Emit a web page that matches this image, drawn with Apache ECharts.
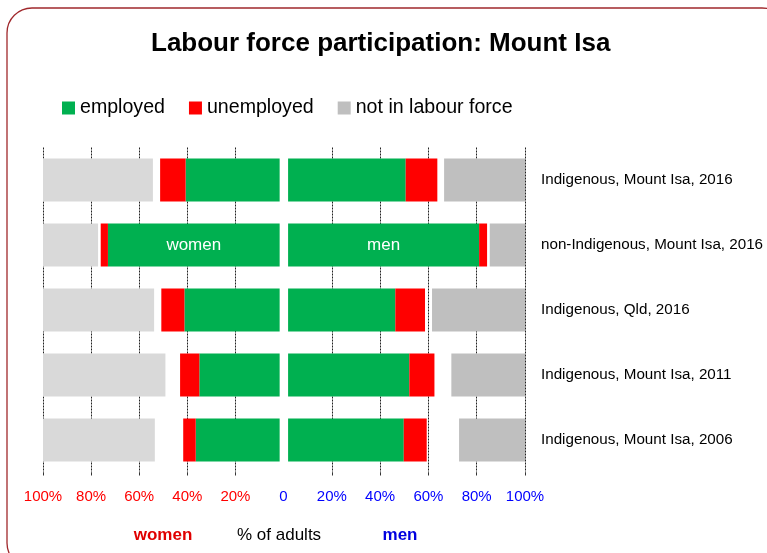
<!DOCTYPE html>
<html><head><meta charset="utf-8">
<script src="https://cdn.jsdelivr.net/npm/echarts@6/dist/echarts.min.js"></script>
<style>html,body{margin:0;padding:0;background:#fff}#c{width:767px;height:553px}</style>
</head><body><div id="c"></div>
<script>
// ---- data ----
const categories = [
  'Indigenous, Mount Isa, 2016',
  'non-Indigenous, Mount Isa, 2016',
  'Indigenous, Qld, 2016',
  'Indigenous, Mount Isa, 2011',
  'Indigenous, Mount Isa, 2006'
];
const womenEmployed   = [39.1, 71.4, 39.6, 33.4, 34.9];
const womenUnemployed = [10.6, 3.0, 9.6, 8.0, 5.2];
const womenNotInLF    = [45.7, 22.9, 46.2, 50.9, 46.5];
const menEmployed     = [48.7, 79.1, 44.4, 50.2, 47.9];
const menUnemployed   = [13.1, 3.3, 12.3, 10.4, 9.5];
const menNotInLF      = [33.5, 14.6, 38.5, 30.5, 27.3];
const tickValues = [0, 20, 40, 60, 80, 100];

// ---- style ----
const FONT = 'Liberation Sans, Arial, sans-serif';
const WOMEN_SPACER = 1.6, MEN_SPACER = 1.9;
const GREEN = '#00B050', RED = '#FF0000';

function sideSeries(idx, emp, unemp, nilf, spacer, greyColor, labelText) {
  const stack = 'side' + idx;
  const base = {type: 'bar', stack: stack, xAxisIndex: idx, yAxisIndex: idx, barWidth: 43};
  return [
    Object.assign({}, base, {name: '_sp' + idx, data: categories.map(() => spacer),
      itemStyle: {color: 'rgba(0,0,0,0)'}, silent: true, emphasis: {disabled: true}}),
    Object.assign({}, base, {name: 'employed',
      data: emp.map((v, i) => i === 1 ? {value: v, label: {show: true, position: 'inside',
        formatter: labelText, color: '#fff', fontSize: 17, fontFamily: FONT}} : v),
      itemStyle: {color: GREEN}}),
    Object.assign({}, base, {name: 'unemployed', data: unemp, itemStyle: {color: RED}}),
    Object.assign({}, base, {name: '_gap' + idx,
      data: emp.map((v, i) => +(100 - spacer - v - unemp[i] - nilf[i]).toFixed(2)),
      itemStyle: {color: 'rgba(0,0,0,0)'}, silent: true, emphasis: {disabled: true}}),
    Object.assign({}, base, {name: 'not in labour force', data: nilf, itemStyle: {color: greyColor}})
  ];
}

const splitLine = {show: true, showMinLine: true, showMaxLine: true, lineStyle: {color: '#222', width: 1, type: [2, 1]}};
const axisTick = {show: true, length: 3, customValues: tickValues.slice(1), lineStyle: {color: '#333'}};

const chart = echarts.init(document.getElementById('c'), null, {renderer: 'canvas'});
chart.setOption({
  animation: false,
  backgroundColor: '#fff',
  textStyle: {fontFamily: FONT},
  title: {
    text: 'Labour force participation: Mount Isa',
    left: 146, top: 26,
    textStyle: {fontSize: 26, fontWeight: 'bold', color: '#000', fontFamily: FONT}
  },
  legend: {
    left: 62, top: 98, padding: 0,
    itemWidth: 13, itemHeight: 13, itemGap: 24,
    icon: 'rect',
    textStyle: {fontSize: 19.6, color: '#000', fontFamily: FONT},
    data: [
      {name: 'employed', itemStyle: {color: GREEN}},
      {name: 'unemployed', itemStyle: {color: RED}},
      {name: 'not in labour force', itemStyle: {color: '#BFBFBF'}}
    ]
  },
  grid: [
    {left: 43, width: 240.5, top: 147.5, height: 325},
    {left: 283.5, width: 241.5, top: 147.5, height: 325}
  ],
  xAxis: [
    {gridIndex: 0, type: 'value', min: 0, max: 100, interval: 20, inverse: true,
      axisLine: {show: false}, axisTick: axisTick,
      splitLine: splitLine,
      axisLabel: {showMinLabel: false, margin: 17, color: RED, fontSize: 15, fontFamily: FONT,
        formatter: v => v + '%'}},
    {gridIndex: 1, type: 'value', min: 0, max: 100, interval: 20,
      axisLine: {show: false}, axisTick: axisTick,
      splitLine: splitLine,
      axisLabel: {margin: 17, color: '#0000FF', fontSize: 15, fontFamily: FONT,
        formatter: v => v === tickValues[0] ? '0' : v + '%'}}
  ],
  yAxis: [
    {gridIndex: 0, type: 'category', data: categories, inverse: true,
      axisLine: {show: false}, axisTick: {show: false}, axisLabel: {show: false}},
    {gridIndex: 1, type: 'category', data: categories, inverse: true, position: 'right',
      axisLine: {show: false}, axisTick: {show: false},
      axisLabel: {show: true, margin: 16, color: '#000', fontSize: 15.2, fontFamily: FONT}}
  ],
  series: [].concat(
    sideSeries(0, womenEmployed, womenUnemployed, womenNotInLF, WOMEN_SPACER, '#D9D9D9', 'women'),
    sideSeries(1, menEmployed, menUnemployed, menNotInLF, MEN_SPACER, '#BFBFBF', 'men')
  ),
  graphic: [
    {type: 'rect', shape: {x: 7, y: 8, width: 780, height: 560, r: 25},
      style: {fill: 'none', stroke: '#A0282C', lineWidth: 1.3}, silent: true, z: -10},
    {type: 'text', x: 163, y: 535, style: {text: 'women', fill: '#E00000', font: 'bold 17px ' + FONT,
      textAlign: 'center', textVerticalAlign: 'middle'}},
    {type: 'text', x: 237, y: 535, style: {text: '% of adults', fill: '#000', font: '17px ' + FONT,
      textAlign: 'left', textVerticalAlign: 'middle'}},
    {type: 'text', x: 400, y: 535, style: {text: 'men', fill: '#0000E0', font: 'bold 17px ' + FONT,
      textAlign: 'center', textVerticalAlign: 'middle'}}
  ]
});
</script>
</body></html>
